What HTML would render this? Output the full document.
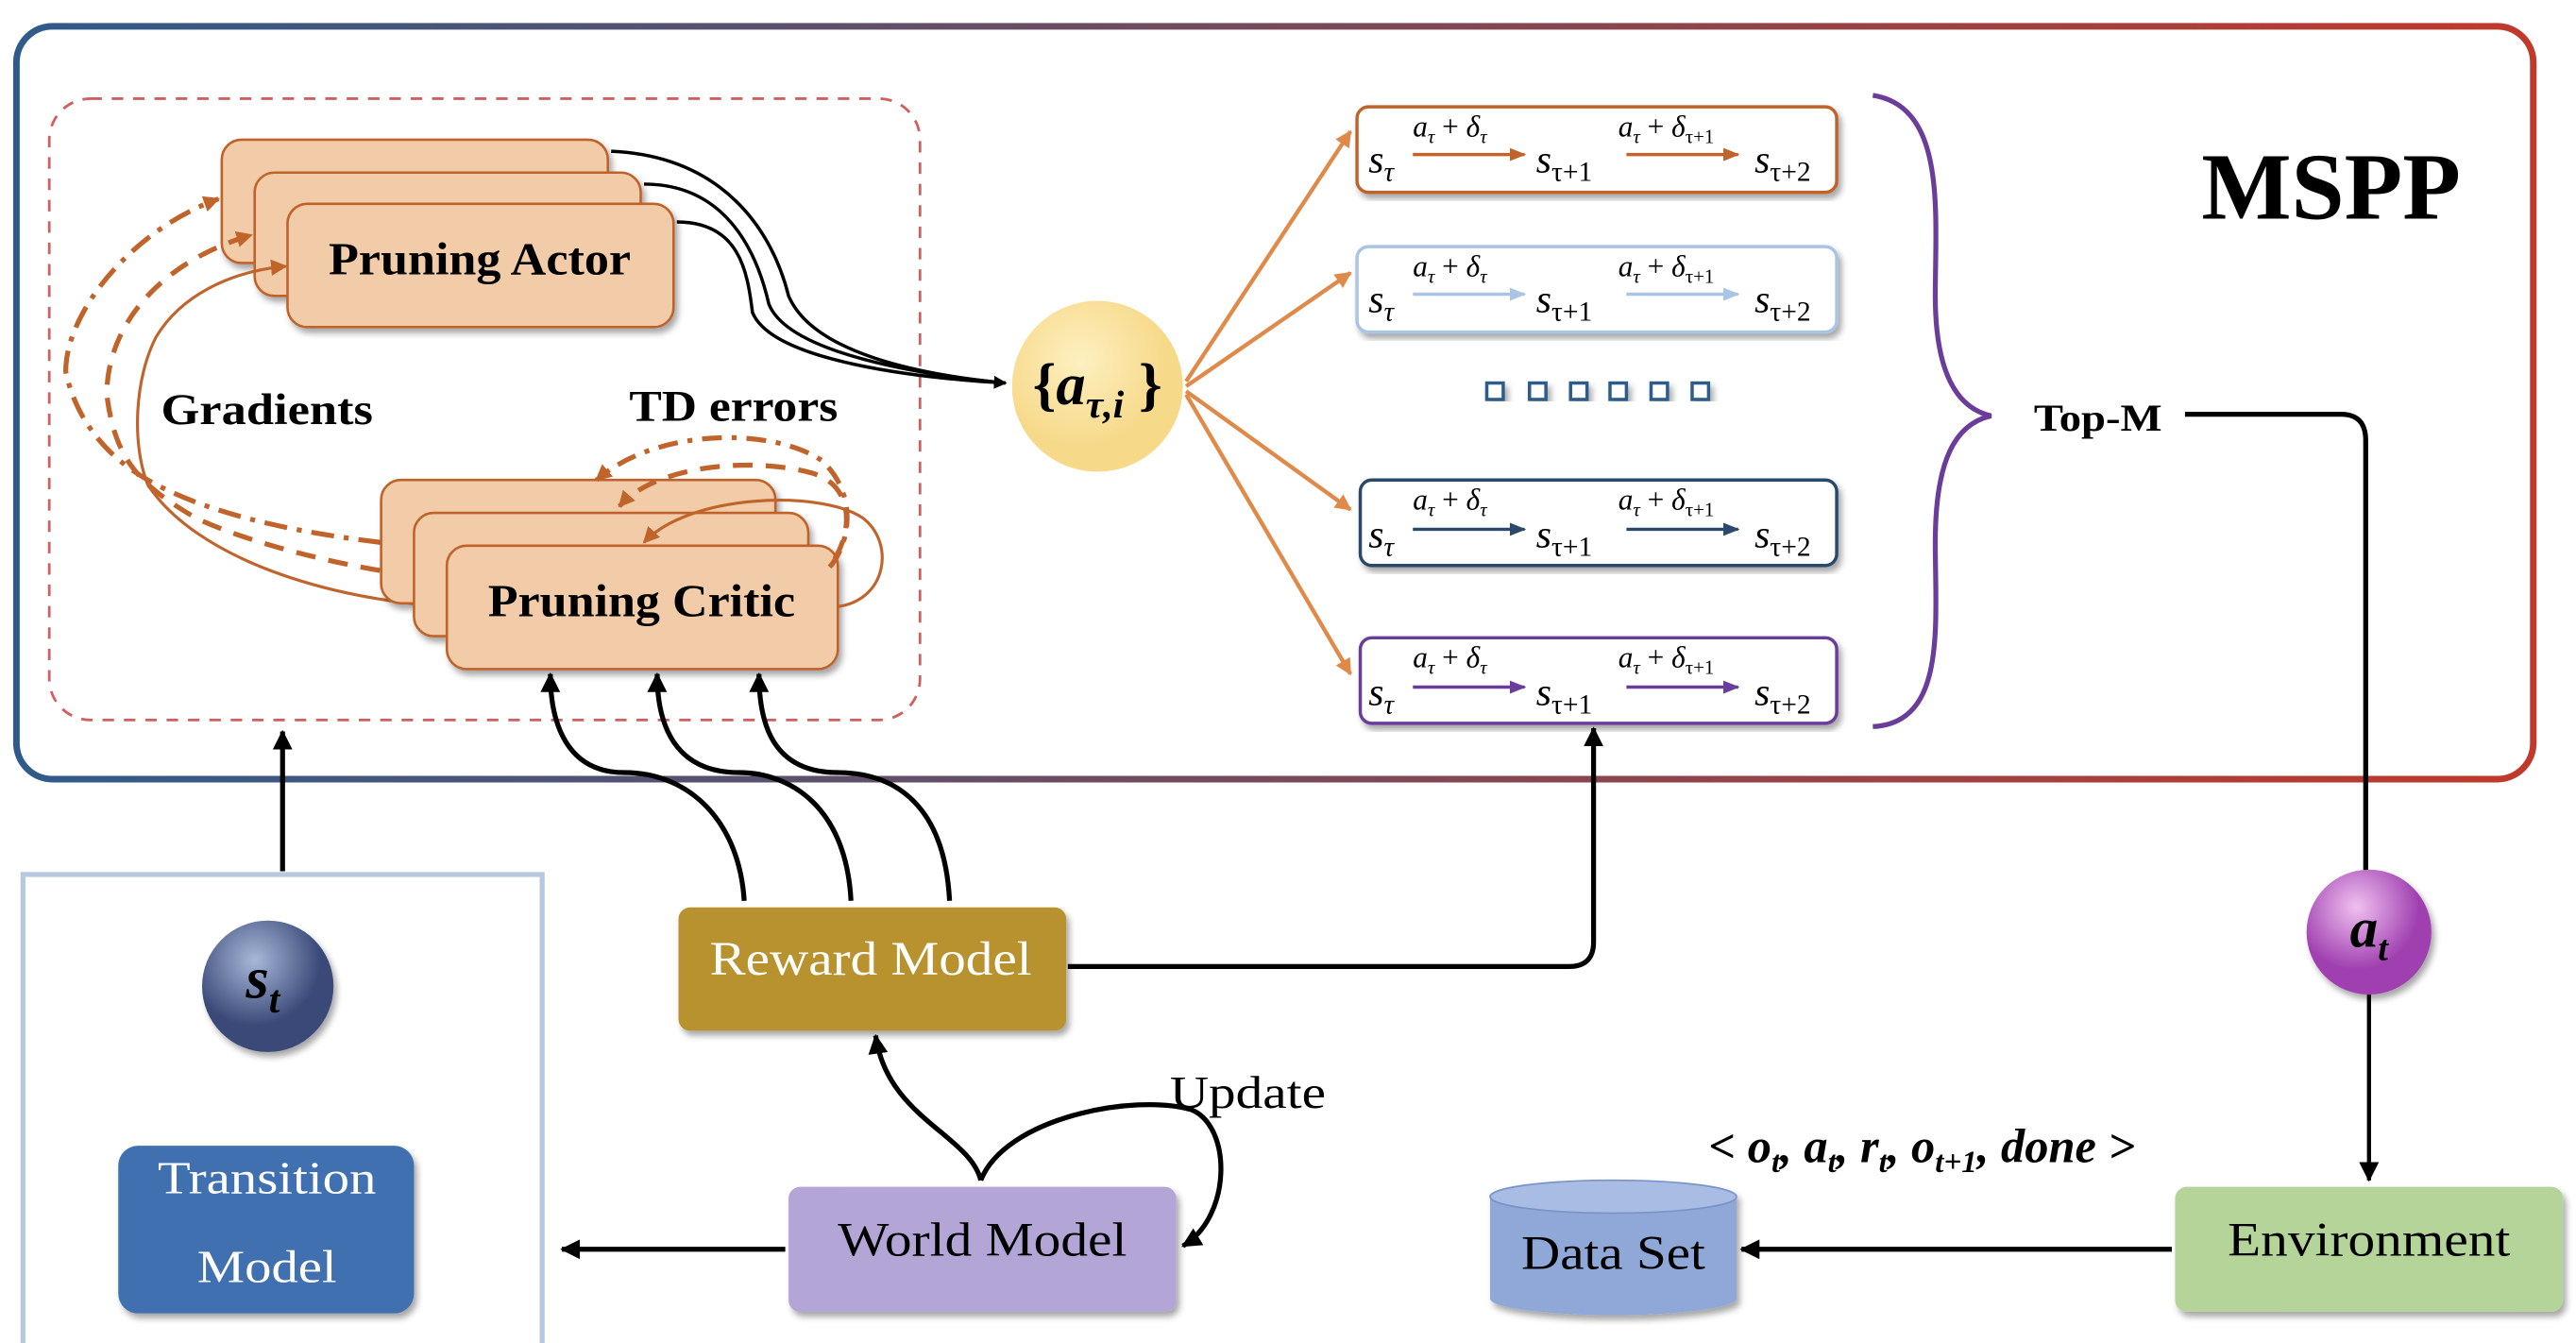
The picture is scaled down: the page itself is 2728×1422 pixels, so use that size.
<!DOCTYPE html>
<html><head><meta charset="utf-8"><style>html,body{margin:0;padding:0;background:#fff}svg{display:block}</style></head><body>
<svg width="2728" height="1422" viewBox="0 0 1568 817" preserveAspectRatio="none" xmlns="http://www.w3.org/2000/svg" font-family="Liberation Serif, serif">
<defs>
<linearGradient id="fr" x1="0" x2="1"><stop offset="0" stop-color="#2f5b8a"/><stop offset="1" stop-color="#c0392b"/></linearGradient>
<radialGradient id="yc" cx="0.4" cy="0.35"><stop offset="0" stop-color="#fdf0c0"/><stop offset="1" stop-color="#f7d98a"/></radialGradient>
<radialGradient id="pc" cx="0.4" cy="0.3"><stop offset="0" stop-color="#f0c0f0"/><stop offset="1" stop-color="#a040b0"/></radialGradient>
<radialGradient id="bc" cx="0.4" cy="0.3"><stop offset="0" stop-color="#a8b8d8"/><stop offset="1" stop-color="#3a4a78"/></radialGradient>
<marker id="ab" markerWidth="8" markerHeight="8" refX="7" refY="4" orient="auto" markerUnits="userSpaceOnUse"><path d="M0,0L8,4L0,8z" fill="#000"/></marker>
<marker id="ao" markerWidth="10" markerHeight="10" refX="9" refY="5" orient="auto" markerUnits="userSpaceOnUse"><path d="M0,0L10,5L0,10z" fill="#e08a4a"/></marker>
<marker id="ab2" markerWidth="12" markerHeight="12" refX="11" refY="6" orient="auto" markerUnits="userSpaceOnUse"><path d="M0,0L12,6L0,12z" fill="#000"/></marker>
<marker id="ar" markerWidth="10" markerHeight="10" refX="9" refY="5" orient="auto" markerUnits="userSpaceOnUse"><path d="M0,0L10,5L0,10z" fill="#c0642c"/></marker>
<marker id="c1" markerWidth="10" markerHeight="10" refX="9" refY="5" orient="auto" markerUnits="userSpaceOnUse"><path d="M0,1L10,5L0,9z" fill="#c0642c"/></marker>
<marker id="c2" markerWidth="10" markerHeight="10" refX="9" refY="5" orient="auto" markerUnits="userSpaceOnUse"><path d="M0,1L10,5L0,9z" fill="#a9c4e4"/></marker>
<marker id="c3" markerWidth="10" markerHeight="10" refX="9" refY="5" orient="auto" markerUnits="userSpaceOnUse"><path d="M0,1L10,5L0,9z" fill="#2b4a6b"/></marker>
<marker id="c4" markerWidth="10" markerHeight="10" refX="9" refY="5" orient="auto" markerUnits="userSpaceOnUse"><path d="M0,1L10,5L0,9z" fill="#6a3d9a"/></marker>
<filter id="sh"><feDropShadow dx="2" dy="3" stdDeviation="2" flood-opacity="0.35"/></filter>
</defs>
<rect x="10" y="16" width="1532" height="458" rx="22" fill="none" stroke="url(#fr)" stroke-width="4"/>
<rect x="30" y="60" width="530" height="378" rx="25" fill="none" stroke="#d06060" stroke-width="1.6" stroke-dasharray="7,6"/>
<text x="1340" y="133" font-size="58" font-weight="bold">MSPP</text>

<g fill="none" stroke="#000" stroke-width="2">
<path d="M372,92 C440,95 470,140 480,180 C495,215 560,228 612,233"/>
<path d="M392,112 C440,112 460,150 468,185 C480,215 560,228 612,233"/>
<path d="M412,135 C450,135 455,165 458,190 C470,220 560,230 612,233" marker-end="url(#ab)"/>
</g>

<!-- actor stack -->
<g filter="url(#sh)" fill="#f2cba8" stroke="#c0642c" stroke-width="1.5">
<rect x="135" y="85" width="235" height="75" rx="12"/>
<rect x="155" y="105" width="235" height="75" rx="12"/>
<rect x="175" y="124" width="235" height="75" rx="12"/>
</g>
<text x="200" y="167" font-size="28" font-weight="bold" textLength="184" lengthAdjust="spacingAndGlyphs">Pruning Actor</text>

<!-- gradient feedback -->
<g fill="none" stroke="#c0642c">
<path d="M232,330 C190,325 130,315 90,292 C60,275 45,250 40,226 C40,190 80,140 133,121" stroke-width="3" stroke-dasharray="14,6,3,6" marker-end="url(#ar)"/>
<path d="M251,350 C210,345 150,330 119,315 C85,295 70,280 65,240 C65,200 95,160 153,143" stroke-width="3" stroke-dasharray="12,8" marker-end="url(#ar)"/>
<path d="M273,369 C200,365 120,340 90,295 C80,270 82,230 95,205 C110,180 140,165 174,162" stroke-width="1.8" marker-end="url(#ar)"/>
</g>

<!-- critic stack -->
<g filter="url(#sh)" fill="#f2cba8" stroke="#c0642c" stroke-width="1.5">
<rect x="232" y="292" width="240" height="75" rx="12"/>
<rect x="252" y="312" width="240" height="75" rx="12"/>
<rect x="272" y="332" width="238" height="75" rx="12"/>
</g>
<g fill="none" stroke="#c0642c">
<path d="M505,345 C518,330 522,300 500,280 C470,260 400,260 363,292" stroke-width="3" stroke-dasharray="12,6,3,6" marker-end="url(#ar)"/>
<path d="M508,340 C520,320 518,295 495,288 C460,278 400,282 377,308" stroke-width="3" stroke-dasharray="12,8" marker-end="url(#ar)"/>
<path d="M510,369 C540,365 545,330 525,315 C500,298 420,300 392,330" stroke-width="1.8" marker-end="url(#ar)"/>
</g>
<text x="297" y="375" font-size="28" font-weight="bold" textLength="187" lengthAdjust="spacingAndGlyphs">Pruning Critic</text>
<text x="98" y="258" font-size="27" font-weight="bold" textLength="129" lengthAdjust="spacingAndGlyphs">Gradients</text>
<text x="383" y="256" font-size="27" font-weight="bold" textLength="127" lengthAdjust="spacingAndGlyphs">TD errors</text>

<circle cx="668" cy="235" r="52" fill="url(#yc)"/>
<text x="668" y="246" font-size="36" font-weight="bold" text-anchor="middle"><tspan>{</tspan><tspan font-style="italic">a</tspan><tspan font-style="italic" font-size="24" dy="8">τ,i</tspan><tspan dy="-8"> }</tspan></text>

<g stroke="#e08a4a" stroke-width="2.5" fill="none">
<path d="M722,232 L822,80" marker-end="url(#ao)"/>
<path d="M722,235 L822,166" marker-end="url(#ao)"/>
<path d="M722,238 L822,310" marker-end="url(#ao)"/>
<path d="M722,240 L822,410" marker-end="url(#ao)"/>
</g>

<g font-style="italic">
<g transform="translate(0,65)">
<rect x="826" y="0" width="292" height="52" rx="7" fill="#fff" stroke="#c0642c" stroke-width="2" filter="url(#sh)"/>
<text x="860" y="18" font-size="18">a<tspan font-size="12" dy="4">τ</tspan><tspan dy="-4" font-style="normal"> + </tspan><tspan>δ</tspan><tspan font-size="12" dy="4">τ</tspan></text>
<text x="985" y="18" font-size="18">a<tspan font-size="12" dy="4">τ</tspan><tspan dy="-4" font-style="normal"> + </tspan><tspan>δ</tspan><tspan font-size="12" dy="4" font-style="normal">τ+1</tspan></text>
<path d="M860,29 L928,29" stroke="#c0642c" stroke-width="2" marker-end="url(#c1)"/>
<path d="M990,29 L1058,29" stroke="#c0642c" stroke-width="2" marker-end="url(#c1)"/>
<text x="833" y="40" font-size="24">s<tspan font-size="17" dy="5">τ</tspan></text>
<text x="935" y="40" font-size="24">s<tspan font-size="17" dy="5" font-style="normal">τ+1</tspan></text>
<text x="1068" y="40" font-size="24">s<tspan font-size="17" dy="5" font-style="normal">τ+2</tspan></text>
</g>
<g transform="translate(0,150)">
<rect x="826" y="0" width="292" height="52" rx="7" fill="#fff" stroke="#a9c4e4" stroke-width="2" filter="url(#sh)"/>
<text x="860" y="18" font-size="18">a<tspan font-size="12" dy="4">τ</tspan><tspan dy="-4" font-style="normal"> + </tspan><tspan>δ</tspan><tspan font-size="12" dy="4">τ</tspan></text>
<text x="985" y="18" font-size="18">a<tspan font-size="12" dy="4">τ</tspan><tspan dy="-4" font-style="normal"> + </tspan><tspan>δ</tspan><tspan font-size="12" dy="4" font-style="normal">τ+1</tspan></text>
<path d="M860,29 L928,29" stroke="#a9c4e4" stroke-width="2" marker-end="url(#c2)"/>
<path d="M990,29 L1058,29" stroke="#a9c4e4" stroke-width="2" marker-end="url(#c2)"/>
<text x="833" y="40" font-size="24">s<tspan font-size="17" dy="5">τ</tspan></text>
<text x="935" y="40" font-size="24">s<tspan font-size="17" dy="5" font-style="normal">τ+1</tspan></text>
<text x="1068" y="40" font-size="24">s<tspan font-size="17" dy="5" font-style="normal">τ+2</tspan></text>
</g>
<g transform="translate(0,292)">
<rect x="828" y="0" width="290" height="52" rx="7" fill="#fff" stroke="#2b4a6b" stroke-width="2" filter="url(#sh)"/>
<text x="860" y="18" font-size="18">a<tspan font-size="12" dy="4">τ</tspan><tspan dy="-4" font-style="normal"> + </tspan><tspan>δ</tspan><tspan font-size="12" dy="4">τ</tspan></text>
<text x="985" y="18" font-size="18">a<tspan font-size="12" dy="4">τ</tspan><tspan dy="-4" font-style="normal"> + </tspan><tspan>δ</tspan><tspan font-size="12" dy="4" font-style="normal">τ+1</tspan></text>
<path d="M860,30 L928,30" stroke="#2b4a6b" stroke-width="2" marker-end="url(#c3)"/>
<path d="M990,30 L1058,30" stroke="#2b4a6b" stroke-width="2" marker-end="url(#c3)"/>
<text x="833" y="41" font-size="24">s<tspan font-size="17" dy="5">τ</tspan></text>
<text x="935" y="41" font-size="24">s<tspan font-size="17" dy="5" font-style="normal">τ+1</tspan></text>
<text x="1068" y="41" font-size="24">s<tspan font-size="17" dy="5" font-style="normal">τ+2</tspan></text>
</g>
<g transform="translate(0,388)">
<rect x="828" y="0" width="290" height="52" rx="7" fill="#fff" stroke="#6a3d9a" stroke-width="2" filter="url(#sh)"/>
<text x="860" y="18" font-size="18">a<tspan font-size="12" dy="4">τ</tspan><tspan dy="-4" font-style="normal"> + </tspan><tspan>δ</tspan><tspan font-size="12" dy="4">τ</tspan></text>
<text x="985" y="18" font-size="18">a<tspan font-size="12" dy="4">τ</tspan><tspan dy="-4" font-style="normal"> + </tspan><tspan>δ</tspan><tspan font-size="12" dy="4" font-style="normal">τ+1</tspan></text>
<path d="M860,30 L928,30" stroke="#6a3d9a" stroke-width="2" marker-end="url(#c4)"/>
<path d="M990,30 L1058,30" stroke="#6a3d9a" stroke-width="2" marker-end="url(#c4)"/>
<text x="833" y="41" font-size="24">s<tspan font-size="17" dy="5">τ</tspan></text>
<text x="935" y="41" font-size="24">s<tspan font-size="17" dy="5" font-style="normal">τ+1</tspan></text>
<text x="1068" y="41" font-size="24">s<tspan font-size="17" dy="5" font-style="normal">τ+2</tspan></text>
</g>
</g>
<g fill="#fff" stroke="#2f5b8a" stroke-width="2" filter="url(#sh)">
<rect x="905" y="233" width="10" height="10"/><rect x="931" y="233" width="10" height="10"/><rect x="956" y="233" width="10" height="10"/><rect x="980" y="233" width="10" height="10"/><rect x="1005" y="233" width="10" height="10"/><rect x="1030" y="233" width="10" height="10"/>
</g>

<path d="M1140,58 C1185,65 1178,130 1178,180 C1178,225 1190,248 1212,253 C1190,258 1178,280 1178,330 C1178,380 1185,440 1140,442" fill="none" stroke="#6a3d9a" stroke-width="3"/>
<text x="1238" y="262" font-size="23" font-weight="bold" textLength="78" lengthAdjust="spacingAndGlyphs">Top-M</text>
<path d="M1330,252 L1425,252 Q1440,252 1440,268 L1440,530" fill="none" stroke="#000" stroke-width="3"/>
<circle cx="1442" cy="567" r="38" fill="url(#pc)" filter="url(#sh)"/>
<text x="1442" y="576" font-size="34" font-weight="bold" font-style="italic" text-anchor="middle">a<tspan font-size="22" dy="8">t</tspan></text>
<path d="M1442,605 L1442,718" stroke="#000" stroke-width="2.5" marker-end="url(#ab2)"/>

<rect x="14" y="532" width="316" height="300" fill="#fff" stroke="#b8c8e0" stroke-width="3"/>
<path d="M172,530 L172,445" stroke="#000" stroke-width="3" marker-end="url(#ab2)"/>
<circle cx="163" cy="600" r="40" fill="url(#bc)" filter="url(#sh)"/>
<text x="160" y="607" font-size="36" font-weight="bold" font-style="italic" text-anchor="middle">s<tspan font-size="24" dy="9">t</tspan></text>
<rect x="72" y="697" width="180" height="102" rx="12" fill="#3f6faf" filter="url(#sh)"/>
<text x="96" y="726" font-size="28" fill="#fff" textLength="133" lengthAdjust="spacingAndGlyphs">Transition</text>
<text x="120" y="780" font-size="28" fill="#fff" textLength="85" lengthAdjust="spacingAndGlyphs">Model</text>

<g fill="none" stroke="#000" stroke-width="3">
<path d="M453,548 C450,500 420,470 380,470 C345,470 335,440 335,410" marker-end="url(#ab2)"/>
<path d="M518,548 C515,490 480,470 450,470 C410,470 400,440 400,410" marker-end="url(#ab2)"/>
<path d="M578,548 C575,490 545,470 510,470 C470,470 462,440 462,410" marker-end="url(#ab2)"/>
<path d="M650,588 L955,588 Q970,588 970,573 L970,443" marker-end="url(#ab2)"/>
</g>
<rect x="413" y="552" width="236" height="75" rx="7" fill="#b8922f" filter="url(#sh)"/>
<text x="432" y="593" font-size="29" fill="#fff" textLength="196" lengthAdjust="spacingAndGlyphs">Reward Model</text>

<g fill="none" stroke="#000" stroke-width="3">
<path d="M597,718 C590,690 540,680 533,630" marker-end="url(#ab2)"/>
<path d="M597,718 C612,680 690,665 725,675 C750,685 750,740 720,758" marker-end="url(#ab2)"/>
<path d="M478,760 L342,760" marker-end="url(#ab2)"/>
<path d="M1322,760 L1060,760" marker-end="url(#ab2)"/>
</g>
<text x="712" y="674" font-size="28" textLength="95" lengthAdjust="spacingAndGlyphs">Update</text>
<rect x="480" y="722" width="236" height="76" rx="7" fill="#b3a6d6" filter="url(#sh)"/>
<text x="510" y="764" font-size="29" textLength="176" lengthAdjust="spacingAndGlyphs">World Model</text>

<g filter="url(#sh)">
<path d="M907,728 L907,790 A75,10 0 0 0 1057,790 L1057,728 z" fill="#8fa8d8"/>
<ellipse cx="982" cy="728" rx="75" ry="10" fill="#a9bde4" stroke="#7a94c8"/>
</g>
<text x="926" y="772" font-size="29" textLength="112" lengthAdjust="spacingAndGlyphs">Data Set</text>

<text x="1040" y="707" font-size="29" font-weight="bold" font-style="italic">&lt; o<tspan font-size="19" dy="6">t</tspan><tspan dy="-6">, a</tspan><tspan font-size="19" dy="6">t</tspan><tspan dy="-6">, r</tspan><tspan font-size="19" dy="6">t</tspan><tspan dy="-6">, o</tspan><tspan font-size="19" dy="6">t+1</tspan><tspan dy="-6">, done  &gt;</tspan></text>

<rect x="1324" y="722" width="236" height="76" rx="7" fill="#b5d49a" filter="url(#sh)"/>
<text x="1356" y="764" font-size="29" textLength="172" lengthAdjust="spacingAndGlyphs">Environment</text>
</svg>
</body></html>
